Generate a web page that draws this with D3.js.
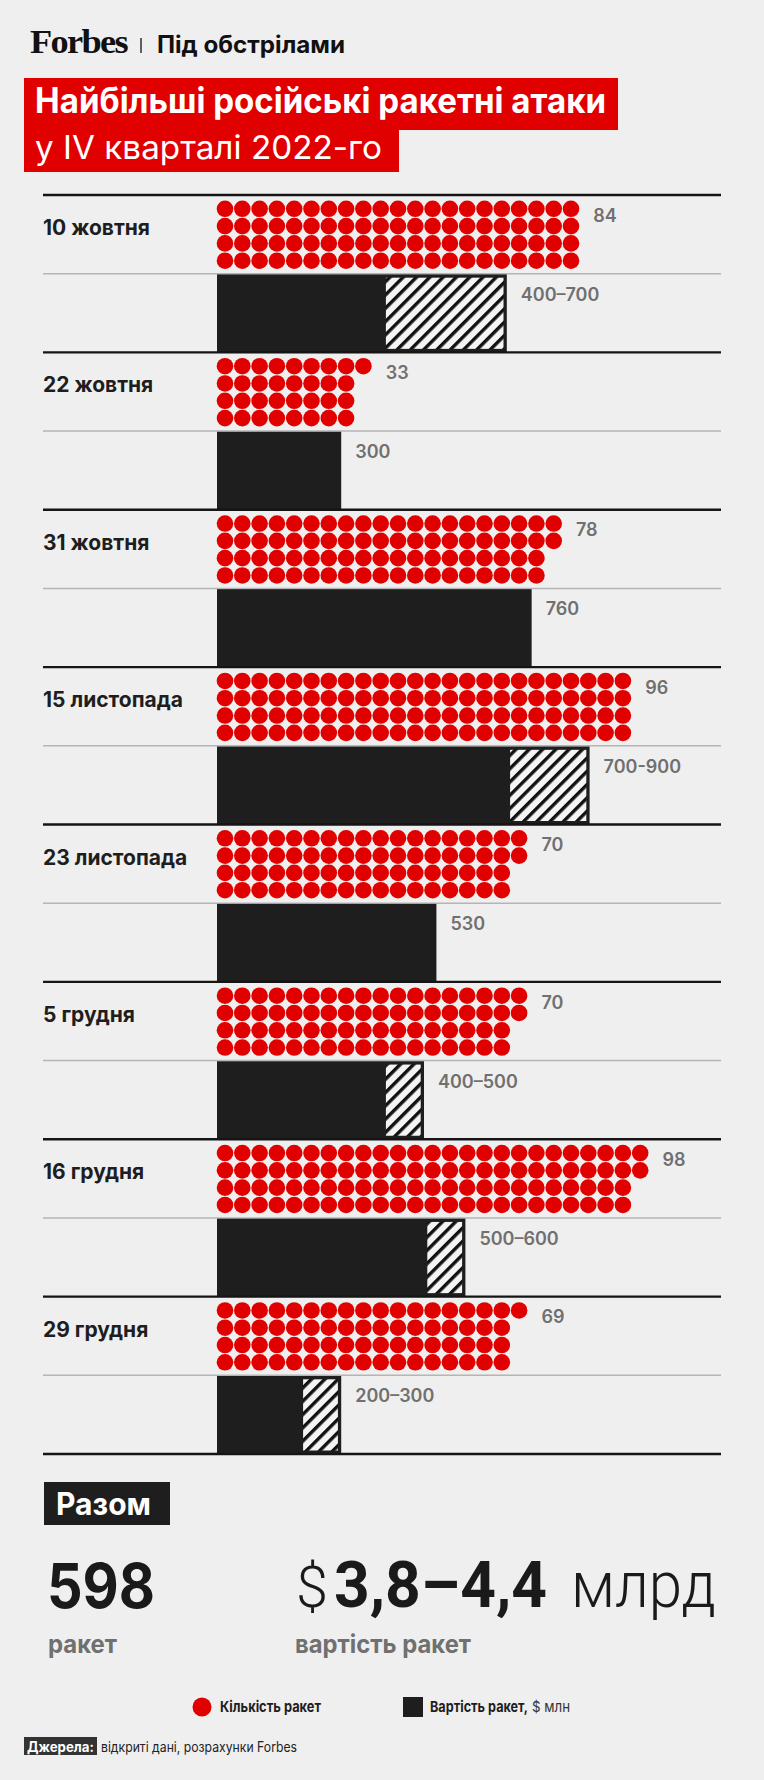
<!DOCTYPE html>
<html><head><meta charset="utf-8">
<script src="https://cdn.jsdelivr.net/npm/d3@7"></script>
<style>
html,body{margin:0;padding:0;background:#efefef;}
svg{display:block;}
</style></head><body>
<svg id="chart" width="764" height="1780" font-family="Inter, 'Noto Sans', Roboto, sans-serif"></svg>
<script>
// ---- data ----
const dates = ["10 жовтня","22 жовтня","31 жовтня","15 листопада","23 листопада","5 грудня","16 грудня","29 грудня"];
const missiles = [84,33,78,96,70,70,98,69];
const costLow  = [400,300,760,700,530,400,500,200];
const costHigh = [700,300,760,900,530,500,600,300];
const costLabels = ["400–700","300","760","700-900","530","400–500","500–600","200–300"];
const titleLines = ["Найбільші російські ракетні атаки","у IV кварталі 2022-го"];
const totalMissiles = "598";
const totalMissilesUnit = "ракет";
const totalCostParts = ["$","3,8–4,4","млрд"];
const totalCostUnit = "вартість ракет";
const legendItems = ["Кількість ракет","Вартість ракет,"];
const legendUnit = "$ млн";
const sourceLabel = "Джерела:";
const sourceText = "відкриті дані, розрахунки Forbes";

const RED = "#e00000", DARK = "#1e1e1e", GRAY = "#707070";
const svg = d3.select("#chart");
svg.append("rect").attr("width",764).attr("height",1780).attr("fill","#efefef");

// hatch pattern
const defs = svg.append("defs");
const pat = defs.append("pattern").attr("id","hatch").attr("patternUnits","userSpaceOnUse")
  .attr("width",9.4).attr("height",9.4).attr("patternTransform","rotate(45)");
pat.append("rect").attr("width",9.4).attr("height",9.4).attr("fill","#f4f4f4");
pat.append("rect").attr("x",0).attr("width",3.4).attr("height",9.4).attr("fill","#111");

// ---- header ----
svg.append("text").attr("x",30).attr("y",53).style("font-family","'Liberation Serif', 'DejaVu Serif', serif")
  .attr("font-weight",700).attr("font-size",33).attr("fill","#111").attr("letter-spacing",-1.5)
  .attr("textLength",97).attr("lengthAdjust","spacingAndGlyphs").text("Forbes");
svg.append("line").attr("x1",141).attr("x2",141).attr("y1",38).attr("y2",53).attr("stroke","#111").attr("stroke-width",1.3);
svg.append("text").attr("x",157).attr("y",53).attr("font-weight",700).attr("font-size",24).attr("fill","#111")
  .attr("textLength",188).attr("lengthAdjust","spacingAndGlyphs").text("Під обстрілами");

const titleBoxes = [{x:24,y:78,w:594,h:52},{x:24,y:129,w:375,h:43}];
svg.selectAll(".tbox").data(titleBoxes).join("rect").attr("class","tbox")
  .attr("x",d=>d.x).attr("y",d=>d.y).attr("width",d=>d.w).attr("height",d=>d.h).attr("fill",RED);
const titleStyle = [{y:113,fs:35,fw:700,len:571},{y:159,fs:33,fw:400,len:347}];
svg.selectAll(".ttl").data(titleLines).join("text").attr("class","ttl")
  .attr("x",35).attr("y",(d,i)=>titleStyle[i].y).attr("font-size",(d,i)=>titleStyle[i].fs)
  .attr("font-weight",(d,i)=>titleStyle[i].fw).attr("fill","#fff")
  .attr("textLength",(d,i)=>titleStyle[i].len).attr("lengthAdjust","spacingAndGlyphs").text(d=>d);

// ---- chart ----
const rows = d3.scaleBand().domain(d3.range(dates.length*2)).range([195,1454]);
const bw = rows.bandwidth();
const xCost = d3.scaleLinear().domain([0,1000]).range([217,631]);
const xCol = d3.scaleLinear().domain([0,25]).range([225,225+25*17.3]);
const yDot = d3.scaleLinear().domain([0,3]).range([13.8,13.8+3*17.3]);
const R = 8.3;

const groups = dates.map((d,i)=>({date:d,n:missiles[i],lo:costLow[i],hi:costHigh[i],lab:costLabels[i],
  top:rows(i*2), barTop:rows(i*2+1)}));

// gray separators
svg.selectAll(".gl").data(groups).join("line").attr("class","gl")
  .attr("x1",43).attr("x2",721).attr("y1",d=>d.barTop).attr("y2",d=>d.barTop)
  .attr("stroke","#b5b5b5").attr("stroke-width",1.4);

// dates
svg.selectAll(".dt").data(groups).join("text").attr("class","dt")
  .attr("x",43).attr("y",d=>d.top+40).attr("font-size",21).attr("font-weight",700)
  .attr("fill",DARK).text(d=>d.date);

// dots (column-major, 4 per column)
groups.forEach((g,gi)=>{
  const pts = d3.range(g.n).map(k=>({c:Math.floor(k/4), r:k%4}));
  svg.append("g").selectAll("circle").data(pts).join("circle")
    .attr("cx",p=>xCol(p.c)).attr("cy",p=>g.top+yDot(p.r)).attr("r",R).attr("fill",RED);
});
svg.selectAll(".nl").data(groups).join("text").attr("class","nl")
  .attr("x",d=>xCol(Math.ceil(d.n/4)-1)+R+14).attr("y",d=>d.top+26.7)
  .attr("font-size",18).attr("font-weight",600).attr("fill",GRAY).text(d=>d.n);

// bars
svg.selectAll(".bar").data(groups).join("rect").attr("class","bar")
  .attr("x",xCost(0)).attr("y",d=>d.barTop+0.7).attr("width",d=>xCost(d.hi)-xCost(0))
  .attr("height",bw-0.7).attr("fill",DARK);
svg.selectAll(".hat").data(groups.filter(d=>d.hi>d.lo)).join("rect").attr("class","hat")
  .attr("x",d=>xCost(d.lo)+3.3).attr("y",d=>d.barTop+4).attr("width",d=>xCost(d.hi)-xCost(d.lo)-6.6)
  .attr("height",bw-7.5).attr("fill","url(#hatch)");
svg.selectAll(".cl").data(groups).join("text").attr("class","cl")
  .attr("x",d=>xCost(d.hi)+14).attr("y",d=>d.barTop+27)
  .attr("font-size",18).attr("font-weight",600).attr("fill",GRAY).text(d=>d.lab);

// black separators
const blackY = d3.range(dates.length).map(i=>rows(i*2)).concat([1454]);
svg.selectAll(".bl").data(blackY).join("line").attr("class","bl")
  .attr("x1",43).attr("x2",721).attr("y1",d=>d).attr("y2",d=>d)
  .attr("stroke","#151515").attr("stroke-width",2.4);

// ---- totals ----
svg.append("rect").attr("x",44).attr("y",1482).attr("width",126).attr("height",43).attr("fill",DARK);
svg.append("text").attr("x",56).attr("y",1515).attr("font-size",31).attr("font-weight",700).attr("fill","#fff")
  .attr("textLength",95).attr("lengthAdjust","spacingAndGlyphs").text("Разом");
svg.append("text").attr("x",47).attr("y",1608).attr("font-size",62).attr("font-weight",700).attr("fill","#1a1a1a")
  .attr("textLength",108).attr("lengthAdjust","spacingAndGlyphs").text(totalMissiles);
svg.append("text").attr("x",48).attr("y",1653).attr("font-size",25).attr("font-weight",700).attr("fill",GRAY)
  .attr("textLength",69).attr("lengthAdjust","spacingAndGlyphs").text(totalMissilesUnit);
const costStyle = [{x:296,w:300,fs:58,len:32},{x:334,w:700,fs:64,len:213},{x:571,w:300,fs:64,len:145}];
const costText = svg.append("text").attr("y",1607).attr("fill","#1a1a1a")
  .style("font-family","Roboto, 'Noto Sans', sans-serif");
costText.selectAll("tspan").data(totalCostParts).join("tspan")
  .attr("x",(d,i)=>costStyle[i].x).attr("font-size",(d,i)=>costStyle[i].fs).attr("font-weight",(d,i)=>costStyle[i].w)
  .attr("textLength",(d,i)=>costStyle[i].len).attr("lengthAdjust","spacingAndGlyphs").text(d=>d);
svg.append("text").attr("x",295).attr("y",1653).attr("font-size",25).attr("font-weight",700).attr("fill",GRAY)
  .attr("textLength",176).attr("lengthAdjust","spacingAndGlyphs").text(totalCostUnit);

// ---- legend ----
svg.append("circle").attr("cx",202).attr("cy",1707).attr("r",9.5).attr("fill",RED);
svg.append("rect").attr("x",403).attr("y",1697).attr("width",20).attr("height",20).attr("fill",DARK);
const legPos = [{x:220,len:101},{x:430,len:98}];
svg.selectAll(".lg").data(legendItems).join("text").attr("class","lg")
  .attr("x",(d,i)=>legPos[i].x).attr("y",1712).attr("font-size",15).attr("font-weight",700).attr("fill",DARK)
  .attr("textLength",(d,i)=>legPos[i].len).attr("lengthAdjust","spacingAndGlyphs").text(d=>d);
svg.append("text").attr("x",532).attr("y",1712).attr("font-size",15).attr("font-weight",400).attr("fill","#333")
  .attr("textLength",38).attr("lengthAdjust","spacingAndGlyphs").text(legendUnit);

// ---- source ----
svg.append("rect").attr("x",24).attr("y",1737).attr("width",73).attr("height",18).attr("fill","#333");
svg.append("text").attr("x",27).attr("y",1751.5).attr("font-size",14).attr("font-weight",700).attr("fill","#fff")
  .attr("textLength",67).attr("lengthAdjust","spacingAndGlyphs").text(sourceLabel);
svg.append("text").attr("x",101).attr("y",1751.5).attr("font-size",14).attr("font-weight",400).attr("fill","#222")
  .attr("textLength",196).attr("lengthAdjust","spacingAndGlyphs").text(sourceText);
</script>
</body></html>
